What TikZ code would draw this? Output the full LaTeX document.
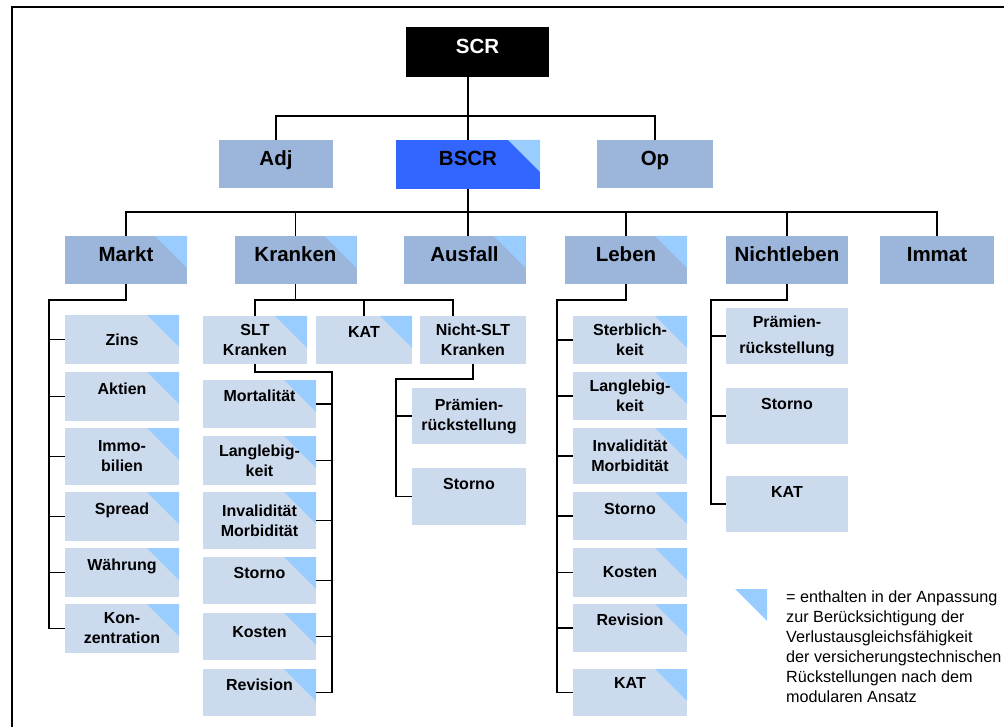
\documentclass[tikz,border=0pt]{standalone}
\usepackage{fontspec}
\setmainfont{Liberation Sans}
\usepackage{tikz}

\definecolor{boxblue}{RGB}{155,181,219}
\definecolor{leafblue}{RGB}{204,218,238}
\definecolor{triblue}{RGB}{153,204,255}
\definecolor{bscrblue}{RGB}{51,102,255}

\begin{document}
\begin{tikzpicture}[
            x = 1pt, y = -1pt, % one unit per pixel, y pointing down
            every node/.style = {inner sep=0pt, align=center},
            box/.style = {fill=boxblue, minimum width=122, minimum height=48,
                font=\fontsize{20.5}{24}\selectfont\bfseries,
                text height=14.5pt, text depth=12pt}, % upper modules
            leaf/.style = {fill=leafblue, minimum width=114, minimum height=48,
                font=\fontsize{16}{20}\selectfont\bfseries}, % sub modules
            toptext/.style = {text height=11pt, text depth=#1}, % label in upper half
            toptext/.default = 16pt,
            tall/.style = {minimum height=57},
            corner/.style = {path picture={
                \fill[triblue] ([xshift=-32pt]path picture bounding box.north east)
                    -- (path picture bounding box.north east)
                    -- ([yshift=-32pt]path picture bounding box.north east) -- cycle;}},
            link/.style = {line width=1.8pt} % tree lines
        ]

    \useasboundingbox (0,0) rectangle (1004,727);
    \draw[line width=2pt] (12,727) -- (12,7.5) -- (1004,7.5);

    % top
    \node[box, fill=black, text=white, minimum width=143, minimum height=50] (scr) at (477.5,52) {SCR};
    \node[box, minimum width=114] (adj) at (276,164) {Adj};
    \node[box, corner, fill=bscrblue, minimum width=144, minimum height=49] (bscr) at (468,164.5) {BSCR};
    \node[box, minimum width=116] (op) at (655,164) {Op};

    % modules
    \node[box, corner] (markt) at (126,260) {Markt};
    \node[box, corner] (kranken) at (295.5,260) {Kranken};
    \node[box, corner] (ausfall) at (464.5,260) {Ausfall};
    \node[box, corner] (leben) at (626,260) {Leben};
    \node[box] (nichtleben) at (787,260) {Nichtleben};
    \node[box, minimum width=114] (immat) at (937,260) {Immat};

    % Markt
    \node[leaf, corner, minimum height=49] (zins) at (122,339.5) {Zins};
    \node[leaf, corner, toptext, minimum height=49] (aktien) at (122,396.5) {Aktien};
    \node[leaf, corner, tall] (immo) at (122,456.5) {Immo-\\bilien};
    \node[leaf, corner, toptext, minimum height=49] (spread) at (122,516.5) {Spread};
    \node[leaf, corner, toptext, minimum height=49] (waehrung) at (122,572.5) {Währung};
    \node[leaf, corner, minimum height=49] (konz) at (122,628.5) {Kon-\\zentration};

    % Kranken
    \node[leaf, corner, minimum width=104] (sltk) at (255,340) {SLT\\Kranken};
    \node[leaf, corner, toptext, minimum width=96] (kkat) at (364,340) {KAT};
    \node[leaf, minimum width=106] (nslt) at (473,340) {Nicht-SLT\\Kranken};

    \node[leaf, corner, toptext, minimum width=113] (kmort) at (259.5,404) {Mortalität};
    \node[leaf, corner, minimum width=113, minimum height=49] (klang) at (259.5,460.5) {Langlebig-\\keit};
    \node[leaf, corner, tall, minimum width=113] (kinv) at (259.5,520.5) {Invalidität\\Morbidität};
    \node[leaf, corner, toptext, minimum width=113, minimum height=47] (ksto) at (259.5,580.5) {Storno};
    \node[leaf, corner, toptext=10pt, minimum width=113, minimum height=47] (kkos) at (259.5,636.5) {Kosten};
    \node[leaf, corner, toptext, minimum width=113, minimum height=47] (krev) at (259.5,692.5) {Revision};

    \node[leaf, minimum height=56] (npra) at (469,416) {Prämien-\\rückstellung};
    \node[leaf, tall, toptext=26pt] (nsto) at (469,496.5) {Storno};

    % Leben
    \node[leaf, corner] (lster) at (630,340) {Sterblich-\\keit};
    \node[leaf, corner] (llang) at (630,396) {Langlebig-\\keit};
    \node[leaf, corner, minimum height=56] (linv) at (630,456) {Invalidität\\Morbidität};
    \node[leaf, corner, toptext=14pt] (lsto) at (630,516) {Storno};
    \node[leaf, corner, minimum height=49] (lkos) at (630,572.5) {Kosten};
    \node[leaf, corner, toptext] (lrev) at (630,628) {Revision};
    \node[leaf, corner, toptext=19pt, minimum height=47] (lkat) at (630,692.5) {KAT};

    % Nichtleben
    \node[leaf, minimum width=122, minimum height=56] (npr) at (787,336) {Prämien-\\[6pt]rückstellung};
    \node[leaf, toptext=24pt, minimum width=122, minimum height=56] (nsto2) at (787,416) {Storno};
    \node[leaf, toptext=24pt, minimum width=122, minimum height=56] (nkat) at (787,504) {KAT};

    % legend
    \fill[triblue] (735,589) -- (767,589) -- (767,621) -- cycle;
    \node[anchor=north west, align=left, font=\fontsize{16.2}{20}\selectfont] (legend) at (786,591)
        {= enthalten in der Anpassung\\zur Berücksichtigung der\\Verlustausgleichsfähigkeit\\der versicherungstechnischen\\Rückstellungen nach dem\\modularen Ansatz};

    % tree lines
    \coordinate (j1) at (469,116);
    \coordinate (j2) at (468,212);
    \draw[link] (bscr.north) -- (bscr.north |- scr.south);
    \draw[link] (adj.north) |- (j1) -| (op.north);
    \draw[link] (bscr.south) -- (bscr.south |- ausfall.north);
    \draw[link] (markt.north) |- (j2) -| (immat.north);
    \draw[link] (kranken.north) -- (kranken.north |- j2);
    \draw[link] (leben.north) -- (leben.north |- j2);
    \draw[link] (nichtleben.north) -- (nichtleben.north |- j2);

    \coordinate (mk) at (49,300);
    \draw[link] (markt.south) |- (mk) |- (konz.west);
    \draw[link] (mk |- zins.west) -- (zins.west);
    \draw[link] (mk |- aktien.west) -- (aktien.west);
    \draw[link] (mk |- immo.west) -- (immo.west);
    \draw[link] (mk |- spread.west) -- (spread.west);
    \draw[link] (mk |- waehrung.west) -- (waehrung.west);

    \coordinate (kr) at (295.5,300);
    \draw[link] (kranken.south) -- (kr);
    \draw[link] (sltk.north) |- (kr) -| ([xshift=-20pt]nslt.north);
    \draw[link] (kkat.north) -- (kkat.north |- kr);

    \coordinate (sk) at (332,372);
    \draw[link] (sltk.south) |- (sk) |- (krev.east);
    \draw[link] (sk |- kmort.east) -- (kmort.east);
    \draw[link] (sk |- klang.east) -- (klang.east);
    \draw[link] (sk |- kinv.east) -- (kinv.east);
    \draw[link] (sk |- ksto.east) -- (ksto.east);
    \draw[link] (sk |- kkos.east) -- (kkos.east);

    \coordinate (ns) at (396,379);
    \draw[link] (nslt.south) |- (ns) |- (nsto.west);
    \draw[link] (ns |- npra.west) -- (npra.west);

    \coordinate (lb) at (557,300);
    \draw[link] (leben.south) |- (lb) |- (lkat.west);
    \draw[link] (lb |- lster.west) -- (lster.west);
    \draw[link] (lb |- llang.west) -- (llang.west);
    \draw[link] (lb |- linv.west) -- (linv.west);
    \draw[link] (lb |- lsto.west) -- (lsto.west);
    \draw[link] (lb |- lkos.west) -- (lkos.west);
    \draw[link] (lb |- lrev.west) -- (lrev.west);

    \coordinate (nl) at (711,300);
    \draw[link] (nichtleben.south) |- (nl) |- (nkat.west);
    \draw[link] (nl |- npr.west) -- (npr.west);
    \draw[link] (nl |- nsto2.west) -- (nsto2.west);

\end{tikzpicture}
\end{document}
